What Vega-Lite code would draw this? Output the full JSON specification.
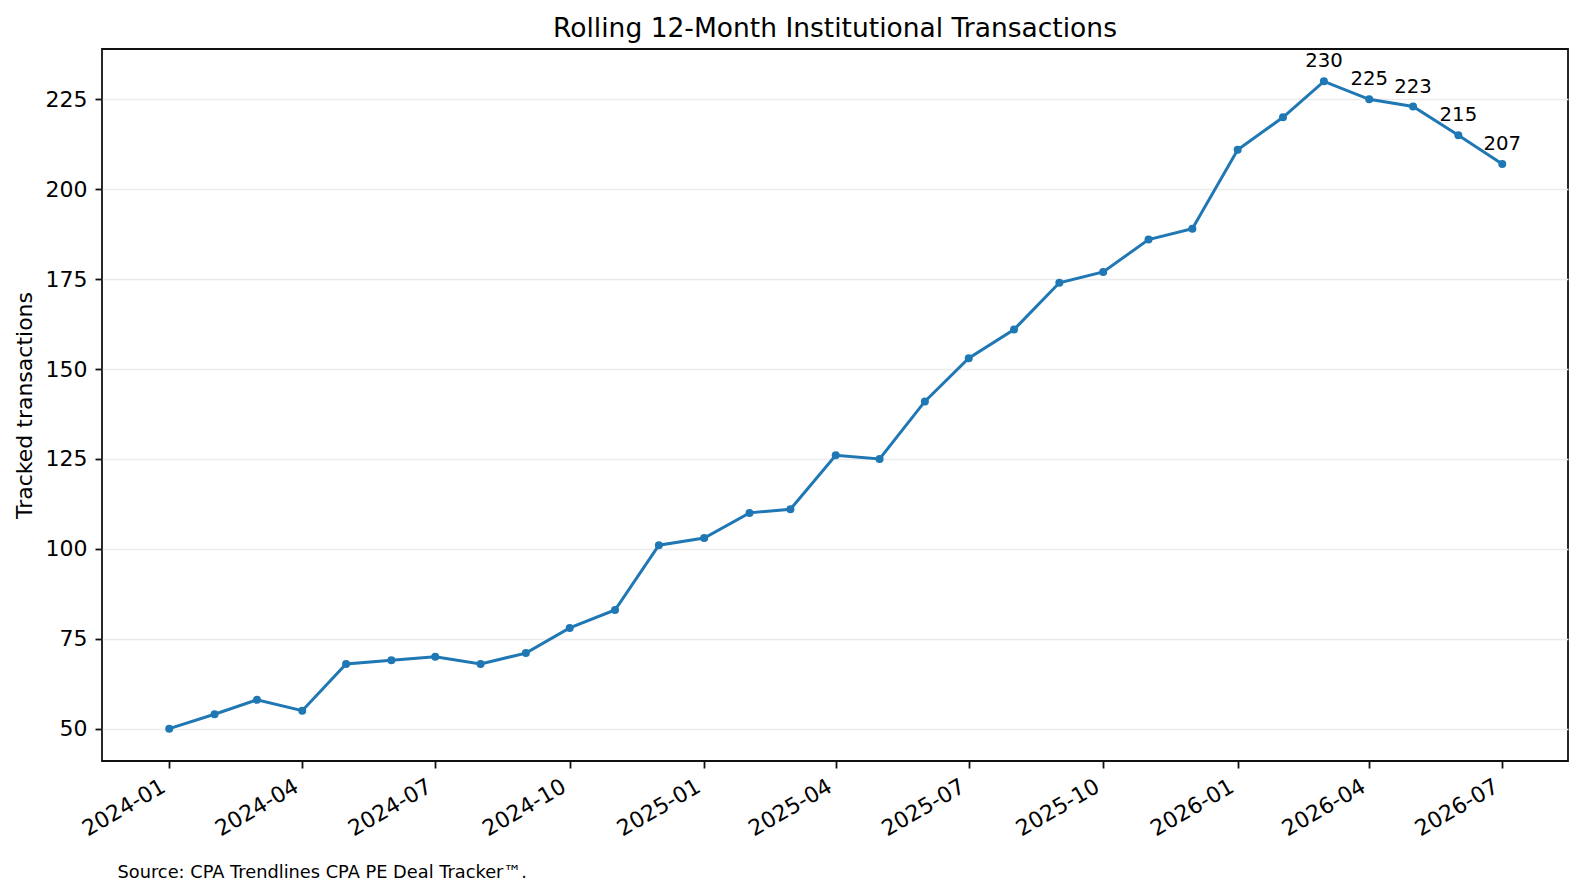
{
  "$schema": "https://vega.github.io/schema/vega-lite/v6.json",
  "width": 1466,
  "height": 712,
  "autosize": {"type": "none"},
  "padding": {"left": 102, "top": 49, "right": 16, "bottom": 135},
  "background": "white",
  "config": {
    "font": "DejaVu Sans",
    "view": {"stroke": "#111111", "strokeWidth": 1.8},
    "axis": {
      "labelFont": "DejaVu Sans",
      "titleFont": "DejaVu Sans",
      "labelColor": "black",
      "titleColor": "black",
      "domain": false,
      "tickColor": "#111111",
      "tickWidth": 1.8,
      "tickSize": 7,
      "labelFontSize": 22,
      "titleFontSize": 22,
      "titleFontWeight": "normal",
      "labelOverlap": false,
      "labelBound": false,
      "labelFlush": false
    },
    "title": {"font": "DejaVu Sans", "fontSize": 26.5, "fontWeight": "normal", "color": "black", "offset": 7}
  },
  "title": {"text": "Rolling 12-Month Institutional Transactions", "anchor": "middle"},
  "data": {
    "values": [
      {"date": "2024-01-01", "value": 50},
      {"date": "2024-02-01", "value": 54},
      {"date": "2024-03-01", "value": 58},
      {"date": "2024-04-01", "value": 55},
      {"date": "2024-05-01", "value": 68},
      {"date": "2024-06-01", "value": 69},
      {"date": "2024-07-01", "value": 70},
      {"date": "2024-08-01", "value": 68},
      {"date": "2024-09-01", "value": 71},
      {"date": "2024-10-01", "value": 78},
      {"date": "2024-11-01", "value": 83},
      {"date": "2024-12-01", "value": 101},
      {"date": "2025-01-01", "value": 103},
      {"date": "2025-02-01", "value": 110},
      {"date": "2025-03-01", "value": 111},
      {"date": "2025-04-01", "value": 126},
      {"date": "2025-05-01", "value": 125},
      {"date": "2025-06-01", "value": 141},
      {"date": "2025-07-01", "value": 153},
      {"date": "2025-08-01", "value": 161},
      {"date": "2025-09-01", "value": 174},
      {"date": "2025-10-01", "value": 177},
      {"date": "2025-11-01", "value": 186},
      {"date": "2025-12-01", "value": 189},
      {"date": "2026-01-01", "value": 211},
      {"date": "2026-02-01", "value": 220},
      {"date": "2026-03-01", "value": 230},
      {"date": "2026-04-01", "value": 225},
      {"date": "2026-05-01", "value": 223},
      {"date": "2026-06-01", "value": 215},
      {"date": "2026-07-01", "value": 207}
    ],
    "format": {"parse": {"date": "utc:'%Y-%m-%d'"}}
  },
  "encoding": {
    "x": {
      "field": "date",
      "type": "temporal",
      "scale": {
        "type": "utc",
        "domain": [
          {"year": 2023, "month": 11, "date": 16, "utc": true},
          {"year": 2026, "month": 8, "date": 15, "utc": true}
        ]
      },
      "axis": {
        "labelExpr": "utcFormat(datum.value, '%Y-%m')",
        "labelAngle": -30,
        "labelAlign": "right",
        "labelBaseline": "bottom",
        "labelPadding": 26.5,
        "grid": false,
        "values": [
          {"year": 2024, "month": 1, "date": 1, "utc": true},
          {"year": 2024, "month": 4, "date": 1, "utc": true},
          {"year": 2024, "month": 7, "date": 1, "utc": true},
          {"year": 2024, "month": 10, "date": 1, "utc": true},
          {"year": 2025, "month": 1, "date": 1, "utc": true},
          {"year": 2025, "month": 4, "date": 1, "utc": true},
          {"year": 2025, "month": 7, "date": 1, "utc": true},
          {"year": 2025, "month": 10, "date": 1, "utc": true},
          {"year": 2026, "month": 1, "date": 1, "utc": true},
          {"year": 2026, "month": 4, "date": 1, "utc": true},
          {"year": 2026, "month": 7, "date": 1, "utc": true}
        ],
        "title": "Source: CPA Trendlines CPA PE Deal Tracker™.",
        "titleFontSize": 17.8,
        "titleAnchor": "start",
        "titleAlign": "left",
        "titleBaseline": "alphabetic",
        "titleAngle": 0,
        "titleX": 15,
        "titleY": 116
      }
    },
    "y": {
      "field": "value",
      "type": "quantitative",
      "scale": {"domain": [41, 239], "nice": false, "zero": false},
      "axis": {
        "values": [50, 75, 100, 125, 150, 175, 200, 225],
        "labelPadding": 8,
        "title": "Tracked transactions",
        "titleAngle": -90,
        "titleBaseline": "alphabetic",
        "titleAlign": "center",
        "titleX": -71,
        "titleY": 356,
        "grid": true,
        "gridColor": "#ebebeb",
        "gridWidth": 1.4
      }
    }
  },
  "layer": [
    {
      "mark": {"type": "line", "color": "#1f77b4", "strokeWidth": 3, "point": {"filled": true, "color": "#1f77b4", "size": 64, "opacity": 1}}
    },
    {
      "transform": [{"filter": "datum.date >= utc(2026, 2, 1)"}],
      "mark": {"type": "text", "align": "center", "baseline": "alphabetic", "dy": -14, "fontSize": 19.7, "color": "black", "font": "DejaVu Sans"},
      "encoding": {"text": {"field": "value", "type": "quantitative"}}
    }
  ]
}
